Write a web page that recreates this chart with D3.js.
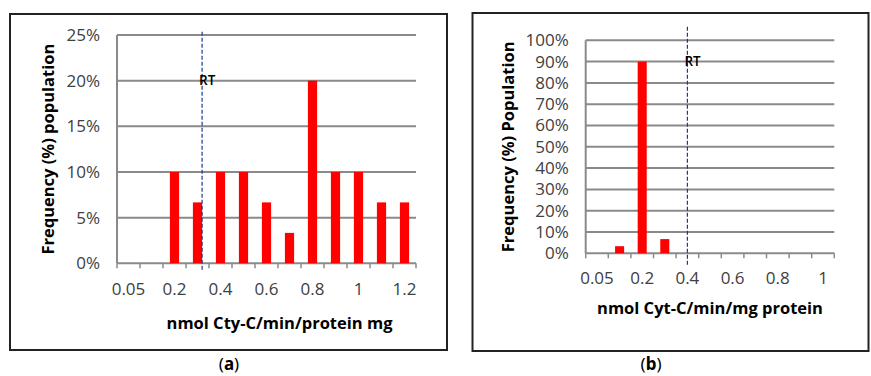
<!DOCTYPE html>
<html>
<head>
<meta charset="utf-8">
<script src="https://cdn.jsdelivr.net/npm/d3@7"></script>
<style>
  body { margin: 0; background: #fff; }
  svg { display: block; }
</style>
</head>
<body>
<div id="viz"></div>
<script>
// panel (a)
const catsA = ["0.05", "0.1", "0.2", "0.3", "0.4", "0.5", "0.6", "0.7", "0.8", "0.9", "1", "1.1", "1.2"];
const valsA = [0, 0, 10, 6.67, 10, 10, 6.67, 3.33, 20, 10, 10, 6.67, 6.67];
const yTicksA = [0, 5, 10, 15, 20, 25];
const rtA = 0.32;

// panel (b)
const catsB = ["0.05", "0.1", "0.2", "0.3", "0.4", "0.5", "0.6", "0.7", "0.8", "0.9", "1"];
const valsB = [0, 3.33, 90, 6.67, 0, 0, 0, 0, 0, 0, 0];
const yTicksB = [0, 10, 20, 30, 40, 50, 60, 70, 80, 90, 100];
const rtB = 0.4;

const width = 871, height = 376;
const font = "'Open Sans', 'Noto Sans', sans-serif";

const svg = d3.select("#viz").append("svg")
    .attr("width", width)
    .attr("height", height)
    .attr("font-family", font);

function panel(opt) {
    // frame
    svg.append("rect")
        .attr("x", opt.frame[0]).attr("y", opt.frame[1])
        .attr("width", opt.frame[2]).attr("height", opt.frame[3])
        .attr("fill", "none").attr("stroke", "#222").attr("stroke-width", 2);

    const x = d3.scaleBand().domain(opt.cats).range(opt.xr)
        .paddingInner(0.6).paddingOuter(0.3);
    const y = d3.scaleLinear().domain([0, d3.max(opt.yTicks)]).range(opt.yr);
    const step = x.step();
    const xc = d3.scaleLinear()
        .domain(opt.cats.map(Number))
        .range(opt.cats.map(c => x(c) + x.bandwidth() / 2));

    const g = svg.append("g");

    // gridlines
    g.append("g").selectAll("line")
        .data(opt.yTicks).join("line")
        .attr("x1", opt.xr[0]).attr("x2", opt.xr[1])
        .attr("y1", d => y(d)).attr("y2", d => y(d))
        .attr("stroke", "#8a8a8a").attr("stroke-width", 2);

    // y axis line
    g.append("line")
        .attr("x1", opt.xr[0]).attr("x2", opt.xr[0])
        .attr("y1", opt.yr[0]).attr("y2", opt.yr[1])
        .attr("stroke", "#8a8a8a").attr("stroke-width", 2);

    // x ticks at category boundaries
    g.append("g").selectAll("line")
        .data(d3.range(opt.cats.length + 1)).join("line")
        .attr("x1", i => opt.xr[0] + i * step).attr("x2", i => opt.xr[0] + i * step)
        .attr("y1", opt.yr[0]).attr("y2", opt.yr[0] + 5)
        .attr("stroke", "#8a8a8a").attr("stroke-width", 1.5);

    // bars
    g.append("g").selectAll("rect")
        .data(opt.cats.map((c, i) => ({c, v: opt.vals[i]})).filter(d => d.v > 0))
        .join("rect")
        .attr("x", d => x(d.c))
        .attr("width", x.bandwidth())
        .attr("y", d => y(d.v))
        .attr("height", d => y(0) - y(d.v))
        .attr("fill", "#ff0000");

    // y tick labels
    g.append("g").selectAll("text")
        .data(opt.yTicks).join("text")
        .attr("x", opt.xr[0] - 17)
        .attr("y", d => y(d))
        .attr("dy", "0.35em")
        .attr("text-anchor", "end")
        .attr("font-size", 17)
        .attr("fill", "#404040")
        .text(d => d + "%");

    // x tick labels, every other category
    g.append("g").selectAll("text")
        .data(opt.cats.filter((c, i) => i % 2 === 0)).join("text")
        .attr("x", d => x(d) + x.bandwidth() / 2)
        .attr("y", opt.xLabelY)
        .attr("dy", "0.35em")
        .attr("text-anchor", "middle")
        .attr("font-size", 17)
        .attr("fill", "#404040")
        .text(d => d);

    // RT line
    const rx = xc(opt.rt);
    g.append("line")
        .attr("x1", rx).attr("x2", rx)
        .attr("y1", opt.rtY[0]).attr("y2", opt.rtY[1])
        .attr("stroke", "#1f3a8a").attr("stroke-width", 1.2)
        .attr("stroke-dasharray", "4,2");
    g.append("text")
        .attr("x", rx - 3)
        .attr("y", y(opt.rtAt))
        .attr("dy", "0.35em")
        .attr("font-size", 13.5)
        .attr("font-weight", 600)
        .attr("fill", "#000")
        .text("RT");

    // axis titles
    g.append("text")
        .attr("transform", `translate(${opt.yTitleX},${(opt.yr[0] + opt.yr[1]) / 2}) rotate(-90)`)
        .attr("dy", "0.35em")
        .attr("text-anchor", "middle")
        .attr("font-size", 16.5)
        .attr("font-weight", "bold")
        .attr("fill", "#000")
        .text(opt.yTitle);
    g.append("text")
        .attr("x", (opt.xr[0] + opt.xr[1]) / 2 + opt.xTitleShift)
        .attr("y", opt.xTitleY)
        .attr("dy", "0.35em")
        .attr("text-anchor", "middle")
        .attr("font-size", 16.5)
        .attr("font-weight", "bold")
        .attr("fill", "#000")
        .text(opt.xTitle);

    // caption
    const cap = svg.append("text")
        .attr("x", opt.capX).attr("y", 364)
        .attr("dy", "0.35em")
        .attr("text-anchor", "middle")
        .attr("font-family", "'Noto Sans', sans-serif")
        .attr("font-size", 17)
        .attr("fill", "#000");
    cap.append("tspan").text("(");
    cap.append("tspan").attr("font-weight", "bold").text(opt.cap);
    cap.append("tspan").text(")");
}

panel({
    frame: [10, 14, 437, 336],
    cats: catsA, vals: valsA, yTicks: yTicksA, rt: rtA, rtAt: 20,
    xr: [117, 416], yr: [263.3, 35],
    xLabelY: 289, rtY: [31.7, 270],
    yTitle: "Frequency (%) population", yTitleX: 48,
    xTitle: "nmol Cty-C/min/protein mg", xTitleY: 323, xTitleShift: 13,
    capX: 229, cap: "a"
});

panel({
    frame: [472.5, 13, 396, 338],
    cats: catsB, vals: valsB, yTicks: yTicksB, rt: rtB, rtAt: 90,
    xr: [585.7, 834.3], yr: [253.3, 40.3],
    xLabelY: 278, rtY: [26.7, 266.7],
    yTitle: "Frequency (%) Population", yTitleX: 508,
    xTitle: "nmol Cyt-C/min/mg protein", xTitleY: 308, xTitleShift: 0,
    capX: 651, cap: "b"
});
</script>
</body>
</html>
